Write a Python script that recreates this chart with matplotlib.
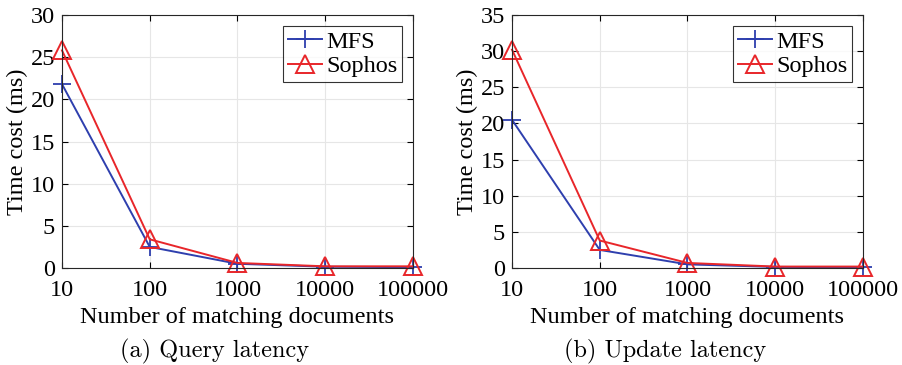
import matplotlib
matplotlib.use("Agg")
import matplotlib.pyplot as plt

docs = [10, 100, 1000, 10000, 100000]
tick_labels = ["10", "100", "1000", "10000", "100000"]
query_mfs = [21.8, 2.5, 0.5, 0.15, 0.1]
query_sophos = [25.8, 3.4, 0.6, 0.2, 0.2]
update_mfs = [20.5, 2.5, 0.5, 0.15, 0.1]
update_sophos = [30.2, 3.8, 0.7, 0.2, 0.2]

plt.rcParams['font.family'] = ['Liberation Serif', 'DejaVu Serif']
plt.rcParams['mathtext.fontset'] = 'cm'

W, H = 903, 365
fig = plt.figure(figsize=(W / 100, H / 100), dpi=100)

blue = '#2E3FAE'
red = '#E8262A'
FS = 17.5

panels = [
    (62, query_mfs, query_sophos, 30, 5, "(a) Query latency", 215),
    (512, update_mfs, update_sophos, 35, 5, "(b) Update latency", 665),
]

for x0, mfs, sophos, ymax, ystep, cap, capx in panels:
    ax = fig.add_axes([x0 / W, 1 - 268 / H, 351 / W, 253 / H])
    ax.plot(docs, mfs, color=blue, lw=1.4, marker='+', ms=13, mew=1.3, label='MFS', clip_on=False)
    ax.plot(docs, sophos, color=red, lw=1.4, marker='^', ms=13, mew=1.4,
            mfc='none', label='Sophos', clip_on=False)
    ax.set_xscale('log')
    ax.set_xlim(10, 100000)
    ax.set_ylim(0, ymax)
    ax.set_xticks(docs)
    ax.set_xticklabels(tick_labels)
    ax.minorticks_off()
    ax.set_yticks(list(range(0, ymax + 1, ystep)))
    ax.tick_params(direction='in', labelsize=FS, top=True, right=True, length=4, width=0.8)
    ax.tick_params(axis='x', pad=9)
    ax.tick_params(axis='y', pad=5)
    ax.grid(True, color='#e6e6e6', lw=0.8)
    ax.set_axisbelow(True)
    for s in ax.spines.values():
        s.set_color('#262626')
        s.set_linewidth(0.8)
    ax.set_xlabel("Number of matching documents", fontsize=FS, labelpad=4)
    ax.set_ylabel("Time cost (ms)", fontsize=FS, labelpad=2)
    leg = ax.legend(loc='upper right', fontsize=FS, frameon=True, fancybox=False,
                    edgecolor='black', handlelength=1.4, handletextpad=0.15,
                    borderpad=0.2, labelspacing=0.1, borderaxespad=0.45)
    leg.get_frame().set_linewidth(0.8)
    fig.text(capx / W, 1 - 351 / H, cap, ha='center', va='center',
             fontsize=FS, family='cmr10')

fig.savefig("out.png", dpi=100)
